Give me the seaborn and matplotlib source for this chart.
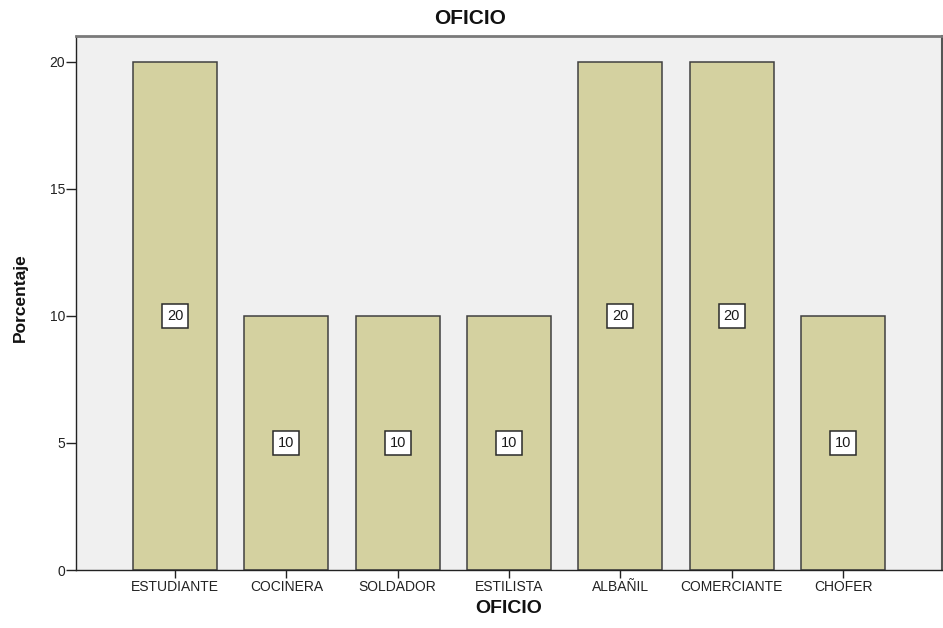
import matplotlib
matplotlib.use("Agg")
import matplotlib.pyplot as plt
import seaborn as sns
import pandas as pd

categories = ["ESTUDIANTE", "COCINERA", "SOLDADOR", "ESTILISTA", "ALBAÑIL", "COMERCIANTE", "CHOFER"]
percentages = [20, 10, 10, 10, 20, 20, 10]
y_ticks = [0, 5, 10, 15, 20]

df = pd.DataFrame({"OFICIO": categories, "Porcentaje": percentages})

sns.set_theme(style="white")
plt.rcParams["font.family"] = ["Liberation Sans", "DejaVu Sans"]

fig = plt.figure(figsize=(9.43, 6.28), dpi=100)
ax = fig.add_axes([76 / 943, 1 - 570 / 628, 866 / 943, 534 / 628])
ax.set_facecolor("#f0f0f0")

sns.barplot(data=df, x="OFICIO", y="Porcentaje", order=categories,
            color="#d4d1a0", saturation=1, width=0.755,
            edgecolor="#404040", linewidth=1.1, ax=ax)

# value labels at mid-height of each bar
for i, v in enumerate(percentages):
    ax.text(i, v / 2, f"{v}", ha="center", va="center", fontsize=10.5, color="#1a1a1a",
            bbox=dict(boxstyle="square,pad=0.32", facecolor="white", edgecolor="#2a2a2a", linewidth=1.1))

ax.set_xlim(-0.889, 6.889)
ax.set_ylim(0, 21.02)
ax.set_yticks(y_ticks)
ax.set_yticklabels([str(t) for t in y_ticks])
ax.tick_params(axis="x", labelsize=10, colors="#222222", length=5.5, width=1,
               direction="out", bottom=True, pad=2)
ax.tick_params(axis="y", labelsize=10, colors="#222222", length=7, width=1,
               direction="out", left=True, pad=1)

for side in ["left", "bottom"]:
    ax.spines[side].set_color("#222222")
    ax.spines[side].set_linewidth(1)
ax.spines["top"].set_color("#7a7a7a")
ax.spines["top"].set_linewidth(2)
ax.spines["right"].set_color("#555555")
ax.spines["right"].set_linewidth(1.5)

ax.set_xlabel("OFICIO", fontsize=14, fontweight="bold", labelpad=4, color="#111111")
ax.set_ylabel("Porcentaje", fontsize=12.5, fontweight="bold", color="#111111")
ax.yaxis.set_label_coords(-0.056, 0.51)
fig.text(0.498, 1 - 19 / 628, "OFICIO", ha="center", va="center",
         fontsize=15, fontweight="bold", color="#111111")

fig.savefig("out.png", dpi=100, facecolor="white")
